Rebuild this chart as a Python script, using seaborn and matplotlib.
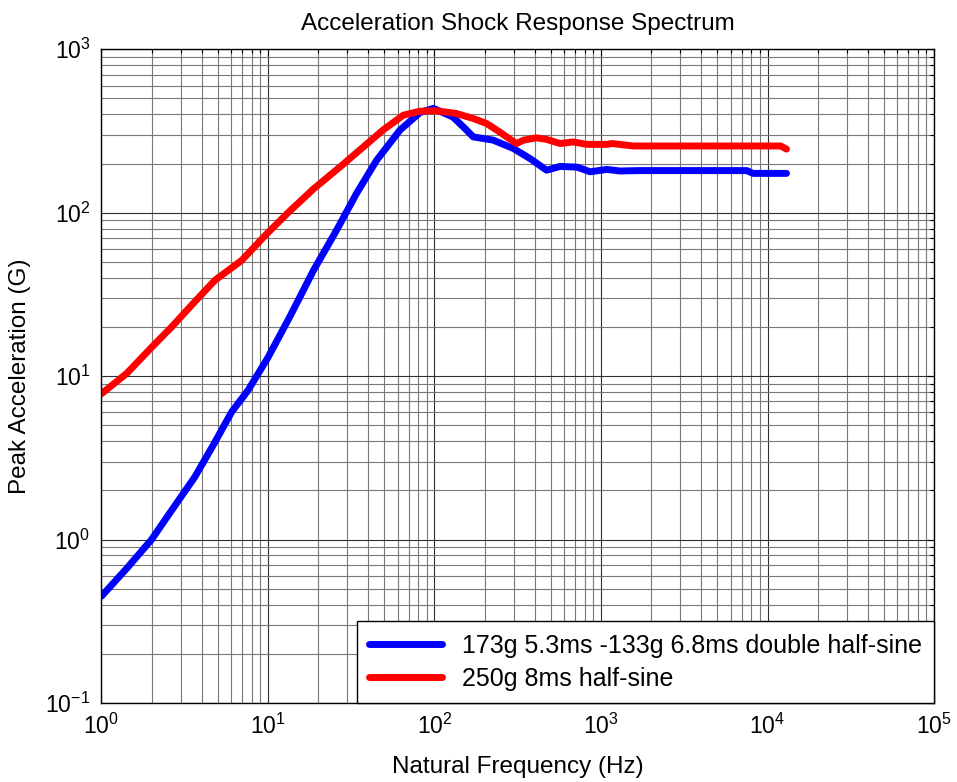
import matplotlib
matplotlib.use("Agg")
import matplotlib.pyplot as plt
import seaborn as sns
import pandas as pd
import numpy as np
from matplotlib.ticker import LogLocator, LogFormatterSciNotation, NullFormatter

# ---- data ----
freq_blue = [1.0, 1.42, 2.0, 2.52, 3.64, 4.69, 6.06, 7.6, 10.0, 13.5, 18.8, 25.8, 34.0, 44.9,
             62, 81.8, 98.5, 129, 149, 171, 225, 298, 376, 471, 569, 718, 860, 1085, 1300,
             1700, 7500, 8200, 13000]
acc_blue = [0.45, 0.667, 1.0, 1.41, 2.42, 3.78, 6.05, 8.2, 13.0, 23, 44.5, 78, 131, 209,
            320, 410, 435, 385, 335, 291, 278, 247, 214, 182, 192, 190, 178, 184, 180,
            181, 181, 174, 174]

freq_red = [1.0, 1.42, 2.0, 2.64, 3.48, 4.8, 6.94, 9.8, 13.2, 18.8, 27, 37.3, 49, 65, 82,
            103, 135, 171, 206, 246, 281, 311, 343, 409, 471, 569, 680, 820, 1085, 1170,
            1560, 12000, 13000]
acc_red = [7.8, 10.4, 15.0, 20, 27.2, 38.6, 51, 74, 100, 140, 190, 252, 320, 395, 418,
           420, 405, 377, 351, 312, 284, 265, 278, 287, 281, 265, 271, 262, 262, 265,
           256, 256, 245]

label_blue = "173g 5.3ms -133g 6.8ms double half-sine"
label_red = "250g 8ms half-sine"

title = "Acceleration Shock Response Spectrum"
xlabel = "Natural Frequency (Hz)"
ylabel = "Peak Acceleration (G)"

df = pd.concat([
    pd.DataFrame({"freq": freq_blue, "acc": acc_blue, "series": label_blue}),
    pd.DataFrame({"freq": freq_red, "acc": acc_red, "series": label_red}),
], ignore_index=True)

sns.set_style("white")
plt.rcParams["font.family"] = ["Liberation Sans", "DejaVu Sans"]
plt.rcParams["mathtext.fontset"] = "custom"
plt.rcParams["mathtext.rm"] = "Liberation Sans"
plt.rcParams["mathtext.it"] = "Liberation Sans:italic"
plt.rcParams["mathtext.bf"] = "Liberation Sans:bold"
plt.rcParams["text.color"] = "black"
plt.rcParams["axes.labelcolor"] = "black"
plt.rcParams["xtick.color"] = "black"
plt.rcParams["ytick.color"] = "black"

fig = plt.figure(figsize=(9.57, 7.82), dpi=100)
ax = fig.add_axes([0.106, 0.101, 0.870, 0.836])

sns.lineplot(data=df, x="freq", y="acc", hue="series",
             palette={label_blue: "#0000ff", label_red: "#ff0000"},
             hue_order=[label_blue, label_red],
             estimator=None, sort=False, linewidth=5, ax=ax)

ax.set_xscale("log")
ax.set_yscale("log")
ax.set_xlim(1, 1e5)
ax.set_ylim(0.1, 1000)

ax.xaxis.set_major_locator(LogLocator(base=10, numticks=10))
ax.xaxis.set_minor_locator(LogLocator(base=10, subs=np.arange(2, 10), numticks=20))
ax.yaxis.set_major_locator(LogLocator(base=10, numticks=10))
ax.yaxis.set_minor_locator(LogLocator(base=10, subs=np.arange(2, 10), numticks=20))
ax.xaxis.set_major_formatter(LogFormatterSciNotation())
ax.yaxis.set_major_formatter(LogFormatterSciNotation())
ax.xaxis.set_minor_formatter(NullFormatter())
ax.yaxis.set_minor_formatter(NullFormatter())

ax.grid(True, which="major", color="#303030", linewidth=0.8)
ax.grid(True, which="minor", color="#787878", linewidth=0.8)
ax.set_axisbelow(True)

ax.tick_params(which="both", direction="in", top=True, right=True, color="black",
               labelcolor="black", labelsize=16.5, width=0.8)
ax.tick_params(which="major", length=5, pad=8)
ax.tick_params(which="minor", length=3)
for s in ax.spines.values():
    s.set_color("black")
    s.set_linewidth(1.0)

ax.set_title(title, fontsize=17.5, pad=14, color="black")
ax.set_xlabel(xlabel, fontsize=17.5, labelpad=12, color="black")
ax.set_ylabel(ylabel, fontsize=17.5, labelpad=10, color="black")

leg = ax.legend(loc="lower right", borderaxespad=0, fontsize=18, frameon=True,
                fancybox=False, edgecolor="black", framealpha=1, handlelength=2.9,
                handletextpad=0.8, borderpad=0.5, labelspacing=0.35)
leg.get_frame().set_linewidth(1.0)
for line in leg.get_lines():
    line.set_linewidth(5)
for t in leg.get_texts():
    t.set_color("black")

fig.savefig("out.png", dpi=100)
